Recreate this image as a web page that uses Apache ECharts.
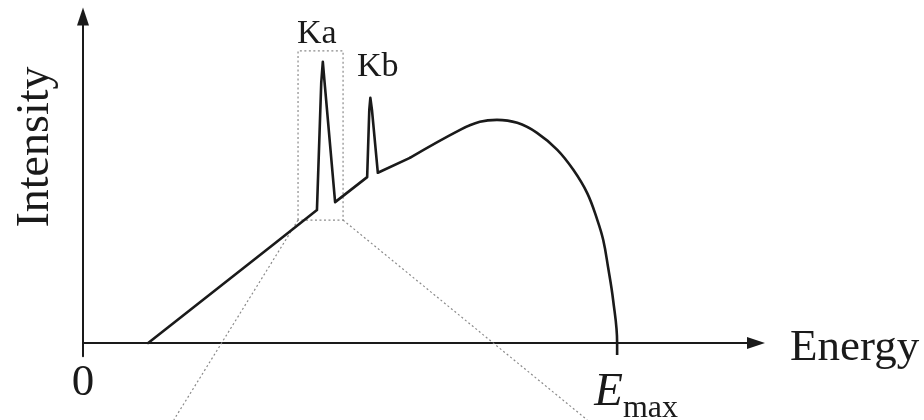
<!DOCTYPE html>
<html>
<head>
<meta charset="utf-8">
<script src="https://cdn.jsdelivr.net/npm/echarts@6/dist/echarts.min.js"></script>
<style>
  html, body { margin: 0; padding: 0; background: #fff; }
  #chart { width: 924px; height: 420px; }
</style>
</head>
<body>
<div id="chart"></div>
<script>
// Bremsstrahlung continuum with the characteristic Ka / Kb lines (Emax = 100)
const rampEnergy    = [12.2, 36.0, 43.8, 44.6, 44.9, 45.3, 47.2, 53.2, 53.6, 53.8, 54.1, 55.2, 61.2];
const rampIntensity = [0.0, 30.0, 39.9, 78.0, 84.4, 77.0, 42.3, 49.8, 70.0, 73.6, 70.0, 51.1, 55.6];

const domeEnergy    = [61.2, 70.6, 74.3, 77.5, 81.3, 85.0, 88.8, 91.8, 94.4, 96.3, 97.4, 98.3, 99.25, 100.0, 100.0];
const domeIntensity = [55.6, 64.0, 66.4, 67.0, 66.1, 63.1, 58.0, 52.0, 45.0, 36.9, 30.9, 22.8, 12.9, 0.0, -3.6];

// Dotted inset frame around the Ka line and its two leader lines
const frameEnergy    = [40.26, 40.26, 48.69, 48.69, 40.26];
const frameIntensity = [36.9, 87.7, 87.7, 36.9, 36.9];
const leaderLeftEnergy     = [40.26, 17.0];
const leaderLeftIntensity  = [36.9, -23.1];
const leaderRightEnergy    = [48.69, 94.4];
const leaderRightIntensity = [36.9, -23.1];

const tickValues = [0, 100];
const tickLabels = ['0', 'Emax'];
const axisNames = { x: 'Energy', y: 'Intensity' };
const peakLabels = ['Ka', 'Kb'];

const pairs = (xs, ys) => xs.map((x, i) => [x, ys[i]]);

const SERIF = '"Liberation Serif", "Times New Roman", serif';
const INK = '#1a1a1a';

const chart = echarts.init(document.getElementById('chart'), null, { renderer: 'canvas' });

const dotted = { color: '#8a8a8a', width: 1.2, type: [2, 2.5] };

chart.setOption({
  animation: false,
  backgroundColor: '#ffffff',
  grid: { left: 83, right: 168, top: 16.6, bottom: 63.7, containLabel: false, outerBoundsMode: 'none' },
  xAxis: {
    type: 'value', min: 0, max: 126,
    axisLine: { onZero: true, lineStyle: { color: INK, width: 2 }, symbol: ['none', 'triangle'], symbolSize: [12, 18] },
    axisTick: { show: false },
    splitLine: { show: false },
    axisLabel: {
      customValues: tickValues,
      margin: 5,
      color: INK,
      fontFamily: SERIF,
      formatter: v => {
        const i = tickValues.indexOf(v);
        if (tickLabels[i] === 'Emax') return '{e|E}{m|max}';
        return '{z|' + tickLabels[i] + '}';
      },
      rich: {
        z: { fontFamily: SERIF, fontSize: 45, color: INK, lineHeight: 44 },
        e: { fontFamily: SERIF, fontSize: 47, fontStyle: 'italic', color: INK, lineHeight: 44, verticalAlign: 'top', padding: [8, 0, 0, 38] },
        m: { fontFamily: SERIF, fontSize: 32, color: INK, lineHeight: 32, verticalAlign: 'top', padding: [31, 0, 0, 0] }
      }
    }
  },
  yAxis: {
    type: 'value', min: -4, max: 98,
    axisLine: { lineStyle: { color: INK, width: 2 }, symbol: ['none', 'triangle'], symbolSize: [12, 18] },
    axisTick: { show: false },
    splitLine: { show: false },
    axisLabel: { show: false }
  },
  graphic: [
    { type: 'text', x: 790, y: 326, style: { text: axisNames.x, font: '45px ' + SERIF, fill: INK, textAlign: 'left', textVerticalAlign: 'top' } },
    { type: 'text', x: 36, y: 147, rotation: Math.PI / 2, style: { text: axisNames.y, font: '46px ' + SERIF, fill: INK, textAlign: 'center', textVerticalAlign: 'middle' } },
    { type: 'text', x: 297, y: 17, style: { text: peakLabels[0], font: '34px ' + SERIF, fill: INK, textAlign: 'left', textVerticalAlign: 'top' } },
    { type: 'text', x: 357, y: 50, style: { text: peakLabels[1], font: '34px ' + SERIF, fill: INK, textAlign: 'left', textVerticalAlign: 'top' } }
  ],
  series: [
    { type: 'line', data: pairs(frameEnergy, frameIntensity), showSymbol: false, clip: false, lineStyle: dotted, z: 1 },
    { type: 'line', data: pairs(leaderLeftEnergy, leaderLeftIntensity), showSymbol: false, clip: false, lineStyle: dotted, z: 1 },
    { type: 'line', data: pairs(leaderRightEnergy, leaderRightIntensity), showSymbol: false, clip: false, lineStyle: dotted, z: 1 },
    { type: 'line', data: pairs(rampEnergy, rampIntensity), showSymbol: false, clip: false,
      lineStyle: { color: INK, width: 2.6, join: 'round', cap: 'round' }, z: 3 },
    { type: 'line', data: pairs(domeEnergy, domeIntensity), showSymbol: false, clip: false, smooth: 0.4,
      lineStyle: { color: INK, width: 2.6, join: 'round', cap: 'butt' }, z: 3 }
  ]
});
</script>
</body>
</html>
